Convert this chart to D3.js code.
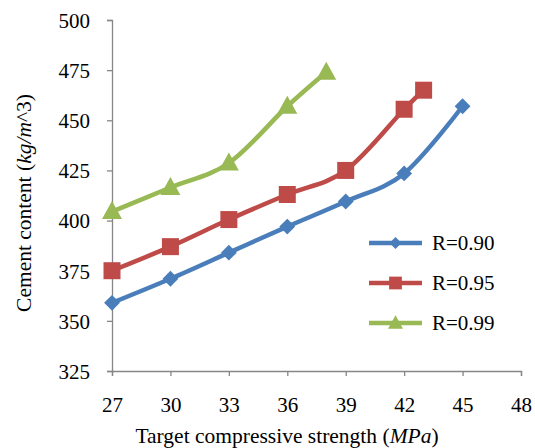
<!DOCTYPE html>
<html>
<head>
<meta charset="utf-8">
<script src="https://cdn.jsdelivr.net/npm/d3@7"></script>
<style>
  body { margin: 0; background: #fff; }
  text { font-family: "Liberation Serif", "Times New Roman", serif; fill: #000; }
</style>
</head>
<body>
<div id="chart-area"></div>
<script>
// data
var strength90 = [27, 30, 33, 36, 39, 42, 45];
var cement90 = [359, 371, 384, 397, 409.5, 423.5, 457];
var strength95 = [27, 30, 33, 36, 39, 42, 43];
var cement95 = [375, 387, 400.5, 413, 425, 455.5, 465];
var strength99 = [27, 30, 33, 36, 38];
var cement99 = [404.5, 416.5, 428.7, 457, 474];
var seriesNames = ["R=0.90", "R=0.95", "R=0.99"];
var xTicks = [27, 30, 33, 36, 39, 42, 45, 48];
var yTicks = [325, 350, 375, 400, 425, 450, 475, 500];

var W = 535, H = 448;
var margin = { left: 112, right: 14, top: 20, bottom: 77 };
var width = W - margin.left - margin.right;
var height = H - margin.top - margin.bottom;

var svg = d3.select("#chart-area")
    .append("svg")
    .attr("width", W)
    .attr("height", H);

var g = svg.append("g")
    .attr("transform", "translate(" + margin.left + "," + margin.top + ")");

var x = d3.scaleLinear().domain([27, 48]).range([0, width]);
var y = d3.scaleLinear().domain([325, 500]).range([height, 0]);

var axisColor = "#868686";

var xAxis = g.append("g")
    .attr("transform", "translate(0," + height + ")")
    .call(d3.axisBottom(x).tickValues(xTicks).tickSize(5).tickPadding(21).tickFormat(d3.format("d")));
var yAxis = g.append("g")
    .call(d3.axisLeft(y).tickValues(yTicks).tickSize(5).tickPadding(17).tickFormat(d3.format("d")));

[xAxis, yAxis].forEach(function(a) {
    a.select(".domain").attr("stroke", axisColor).attr("stroke-width", 1.3);
    a.selectAll(".tick line").attr("stroke", axisColor).attr("stroke-width", 1.3);
    a.selectAll(".tick text")
        .attr("font-family", "Liberation Serif")
        .attr("font-size", "21px")
        .attr("fill", "#000");
});
yAxis.selectAll(".tick text").attr("dy", "0.35em");

var series = [
    { name: seriesNames[0], xs: strength90, ys: cement90, color: "#4A7EBB", marker: "diamond" },
    { name: seriesNames[1], xs: strength95, ys: cement95, color: "#BE4B48", marker: "square" },
    { name: seriesNames[2], xs: strength99, ys: cement99, color: "#98B954", marker: "triangle" }
];

var line = d3.line()
    .x(function(d) { return x(d[0]); })
    .y(function(d) { return y(d[1]); })
    .curve(d3.curveCardinal.tension(0));

function markerPath(type, k) {
    if (type === "diamond") return d3.symbol().type(d3.symbolDiamond2).size(160 * k * k)();
    if (type === "square") return d3.symbol().type(d3.symbolSquare).size(289 * k * k)();
    return "M0," + (-10.5 * k) + "L" + (10 * k) + "," + (7.5 * k) + "L" + (-10 * k) + "," + (7.5 * k) + "Z";
}

series.forEach(function(s) {
    var pts = s.xs.map(function(v, i) { return [v, s.ys[i]]; });
    g.append("path")
        .datum(pts)
        .attr("fill", "none")
        .attr("stroke", s.color)
        .attr("stroke-width", 4.5)
        .attr("d", line);
    g.selectAll(null)
        .data(pts)
        .enter()
        .append("path")
        .attr("transform", function(d) { return "translate(" + x(d[0]) + "," + y(d[1]) + ")"; })
        .attr("d", markerPath(s.marker, 1))
        .attr("fill", s.color);
});

// legend
var legend = svg.append("g").attr("transform", "translate(369,243)");
series.forEach(function(s, i) {
    var row = legend.append("g").attr("transform", "translate(0," + (i * 40) + ")");
    row.append("line")
        .attr("x1", 0).attr("x2", 53)
        .attr("stroke", s.color).attr("stroke-width", 4.5);
    row.append("path")
        .attr("transform", "translate(26.5,0)")
        .attr("d", markerPath(s.marker, 0.75))
        .attr("fill", s.color);
    row.append("text")
        .attr("x", 63)
        .attr("dy", "0.35em")
        .attr("font-size", "21px")
        .text(s.name);
});

// axis titles
svg.append("text")
    .attr("x", 287)
    .attr("y", 443)
    .attr("text-anchor", "middle")
    .attr("font-size", "21.5px")
    .call(function(t) {
        t.append("tspan").text("Target compressive strength (");
        t.append("tspan").attr("font-style", "italic").text("MPa");
        t.append("tspan").text(")");
    });

svg.append("text")
    .attr("transform", "translate(31,203) rotate(-90)")
    .attr("text-anchor", "middle")
    .attr("font-size", "21.5px")
    .call(function(t) {
        t.append("tspan").text("Cement content (");
        t.append("tspan").attr("font-style", "italic").text("kg/m");
        t.append("tspan").text("^3)");
    });
</script>
</body>
</html>
